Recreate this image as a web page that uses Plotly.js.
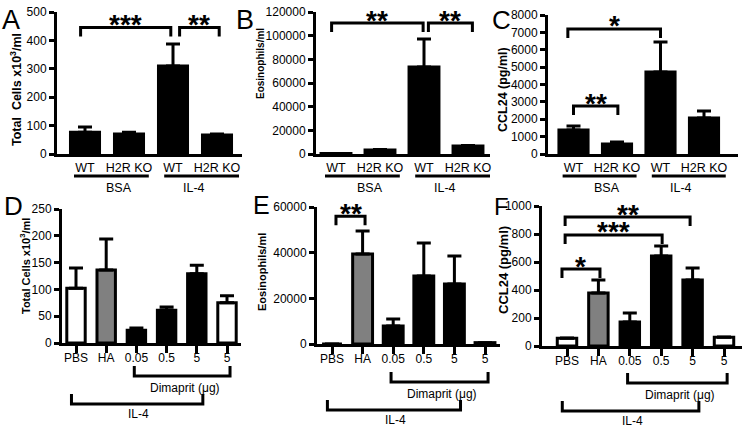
<!DOCTYPE html>
<html>
<head>
<meta charset="utf-8">
<script src="https://cdn.plot.ly/plotly-3.0.1.min.js"></script>
<style>html,body{margin:0;padding:0;background:#fff}</style>
</head>
<body>
<div id="graphContainer" style="width:748px;height:428px"></div>
<script>
// top row (A-C): genotype under BSA / IL-4 challenge
const genotypes = ["WT", "H2R KO", "WT", "H2R KO"];
const topGroups = ["BSA", "IL-4"];

const totalCellsA = [77, 70, 310, 67];
const totalCellsAErr = [18, 7, 77, 3];
const eosinophilsB = [400, 3400, 73500, 6800];
const eosinophilsBErr = [0, 400, 23700, 400];
const ccl24C = [1380, 580, 4720, 2070];
const ccl24CErr = [230, 110, 1730, 400];

// bottom row (D-F): PBS, HA and Dimaprit doses
const doses = ["PBS", "HA", "0.05", "0.5", "5", "5"];
const doseColors = ["white", "#808080", "black", "black", "black", "white"];
const totalCellsD = [102, 136, 24, 61, 129, 75];
const totalCellsDErr = [38, 58, 4, 6, 16, 13];
const eosinophilsE = [0, 39400, 7900, 29800, 26300, 600];
const eosinophilsEErr = [0, 10100, 3000, 14400, 12200, 0];
const ccl24F = [55, 379, 171, 643, 471, 62];
const ccl24FErr = [3, 92, 65, 71, 86, 3];

// significance: [from bar, to bar, stars]
const sigA = [[0, 2, "***"], [2, 3, "**"]];
const sigB = [[0, 2, "**"], [2, 3, "**"]];
const sigC = [[0, 2, "*"], [0, 1, "**"]];
const sigD = [];
const sigE = [[0, 1, "**"]];
const sigF = [[0, 1, "*"], [0, 3, "***"], [0, 4, "**"]];

const W = 748, H = 428;
const FONT = "Liberation Sans, Arial, Helvetica, sans-serif";

const panels = [
    {letter: "A", lx: 11, ly: 20, lsize: 27, y: totalCellsA, err: totalCellsAErr, sig: sigA, labels: genotypes, colors: null,
     left: 57, right: 242, top: 12, bottom: 154, c0: 85, step: 44, bw: 0.66, ymax: 500, dtick: 100,
     title: "Total  Cells x10<sup>3</sup>/ml", tx: 16, ty: 90, tsize: 12.5,
     levels: [445, 445], nudge: [[-0.1, -0.05], [0.15, 0.05]]},
    {letter: "B", lx: 245, ly: 20, lsize: 27, y: eosinophilsB, err: eosinophilsBErr, sig: sigB, labels: genotypes, colors: null,
     left: 316, right: 490, top: 12, bottom: 154, c0: 336, step: 44, bw: 0.68, ymax: 120000, dtick: 20000,
     title: "Eosinophils/ml", tx: 260, ty: 64, tsize: 10,
     levels: [110700, 110700], nudge: [[-0.1, -0.02], [0.1, 0.1]]},
    {letter: "C", lx: 501, ly: 20, lsize: 26, y: ccl24C, err: ccl24CErr, sig: sigC, labels: genotypes, colors: null,
     left: 548, right: 738, top: 15, bottom: 154, c0: 573.5, step: 43.5, bw: 0.67, ymax: 8000, dtick: 1000,
     title: "CCL24 (pg/ml)", tx: 503, ty: 90, tsize: 12.5,
     levels: [7200, 2760], nudge: [[-0.13, 0], [0, 0.02]]},
    {letter: "D", lx: 13, ly: 206, lsize: 26, y: totalCellsD, err: totalCellsDErr, sig: sigD, labels: doses, colors: doseColors,
     left: 62, right: 241, top: 209, bottom: 343, c0: 76, step: 30.2, bw: 0.61, ymax: 250, dtick: 50,
     title: "Total Cells x10<sup>3</sup>/ml", tx: 25, ty: 266, tsize: 11,
     levels: [], nudge: [], dima: -33, il4: -61},
    {letter: "E", lx: 261, ly: 205, lsize: 25, y: eosinophilsE, err: eosinophilsEErr, sig: sigE, labels: doses, colors: doseColors,
     left: 317, right: 500, top: 207, bottom: 344, c0: 332, step: 30.6, bw: 0.65, ymax: 60000, dtick: 20000,
     title: "Eosinophils/ml", tx: 262, ty: 272, tsize: 11,
     levels: [56000], nudge: [[0.13, 0.08]], dima: -38, il4: -66},
    {letter: "F", lx: 501, ly: 206, lsize: 24, y: ccl24F, err: ccl24FErr, sig: sigF, labels: doses, colors: doseColors,
     left: 542, right: 742, top: 206, bottom: 346, c0: 567, step: 31.4, bw: 0.62, ymax: 1000, dtick: 200,
     title: "CCL24 (pg/ml)", tx: 503, ty: 270, tsize: 13,
     levels: [550, 793, 921], nudge: [[-0.16, 0.05], [-0.06, 0.03], [-0.06, -0.08]], dima: -37, il4: -65}
];

const data = [];
const shapes = [];
const annotations = [];
const layout = {
    width: W, height: H,
    margin: {l: 0, r: 0, t: 0, b: 0},
    paper_bgcolor: "white", plot_bgcolor: "white",
    showlegend: false,
    font: {family: FONT, color: "black", size: 12},
    shapes: shapes, annotations: annotations
};

panels.forEach(function (p, k)
{
    const n = k + 1;
    const xa = "x" + (k ? n : ""), ya = "y" + (k ? n : "");
    const xs = p.y.map(function (v, i) { return i; });
    const bottomRow = p.colors !== null;
    const yBase = 1 - p.bottom / H;

    data.push({
        type: "bar", x: xs, y: p.y, width: p.bw, xaxis: xa, yaxis: ya,
        marker: {color: p.colors || "black", line: {color: "black", width: 3}},
        error_y: {type: "data", symmetric: false, array: p.err, arrayminus: p.err.map(function () { return 0; }),
                  color: "black", thickness: 3, width: 7},
        hoverinfo: "skip"
    });

    layout["xaxis" + (k ? n : "")] = {
        domain: [p.left / W, p.right / W], anchor: ya,
        range: [(p.left - p.c0) / p.step, (p.right - p.c0) / p.step],
        tickvals: xs, ticktext: p.labels,
        ticks: bottomRow ? "outside" : "", ticklen: 7, tickwidth: 3, tickcolor: "black",
        ticklabelstandoff: bottomRow ? -5 : 0,
        tickfont: {size: bottomRow ? 12 : 12.5},
        showline: true, linewidth: 3, linecolor: "black",
        showgrid: false, zeroline: false, fixedrange: true
    };
    layout["yaxis" + (k ? n : "")] = {
        domain: [yBase, 1 - p.top / H], anchor: xa,
        range: [0, p.ymax], dtick: p.dtick, tick0: 0, tickformat: "d",
        ticks: "outside", ticklen: 5, tickwidth: 3, tickcolor: "black",
        tickfont: {size: 12},
        showline: true, linewidth: 3, linecolor: "black",
        showgrid: false, zeroline: false, fixedrange: true
    };

    // panel letter and y title
    annotations.push({xref: "paper", yref: "paper", x: p.lx / W, y: 1 - p.ly / H, text: p.letter,
        showarrow: false, xanchor: "center", yanchor: "middle", font: {size: p.lsize}});
    annotations.push({xref: "paper", yref: "paper", x: p.tx / W, y: 1 - p.ty / H, text: "<b>" + p.title + "</b>",
        textangle: -90, showarrow: false, xanchor: "center", yanchor: "middle", font: {size: p.tsize}});

    // significance brackets
    p.sig.forEach(function (s, j)
    {
        const x0 = s[0] + p.nudge[j][0], x1 = s[1] + p.nudge[j][1];
        shapes.push({type: "path", xref: xa, yref: ya, ysizemode: "pixel", yanchor: p.levels[j],
            path: "M" + x0 + ",-9L" + x0 + ",0L" + x1 + ",0L" + x1 + ",-9",
            line: {color: "black", width: 3}});
        annotations.push({xref: xa, yref: ya, x: (x0 + x1) / 2, y: p.levels[j], text: "<b>" + s[2] + "</b>",
            showarrow: false, xanchor: "center", yanchor: "middle", yshift: 3, font: {size: 28}});
    });

    if (!bottomRow)
    {
        // BSA / IL-4 underlines
        const spans = [[-0.25, 1.45], [1.8, 3.5]];
        const mids = [0.78, 2.48];
        topGroups.forEach(function (g, j)
        {
            shapes.push({type: "line", xref: xa, yref: "paper", ysizemode: "pixel", yanchor: yBase,
                x0: spans[j][0], x1: spans[j][1], y0: -22, y1: -22, line: {color: "black", width: 3}});
            annotations.push({xref: xa, yref: "paper", x: mids[j], y: yBase, yshift: -34, text: g,
                showarrow: false, xanchor: "center", yanchor: "middle", font: {size: 12.5}});
        });
    }
    else
    {
        // Dimaprit (ug) and IL-4 brackets, legs up
        const br = [[1.93, 5.1, p.dima, "Dimaprit (\u03bcg)", 3.6, 12], [-0.15, 4.2, p.il4, "IL-4", 2.07, 10]];
        br.forEach(function (b)
        {
            shapes.push({type: "path", xref: xa, yref: "paper", ysizemode: "pixel", yanchor: yBase,
                path: "M" + b[0] + "," + (b[2] + 10) + "L" + b[0] + "," + b[2] + "L" + b[1] + "," + b[2] + "L" + b[1] + "," + (b[2] + 10),
                line: {color: "black", width: 3}});
            annotations.push({xref: xa, yref: "paper", x: b[4], y: yBase, yshift: b[2] - b[5], text: b[3],
                showarrow: false, xanchor: "center", yanchor: "middle", font: {size: 12}});
        });
    }
});

Plotly.newPlot("graphContainer", data, layout, {staticPlot: true, displayModeBar: false});
</script>
</body>
</html>
